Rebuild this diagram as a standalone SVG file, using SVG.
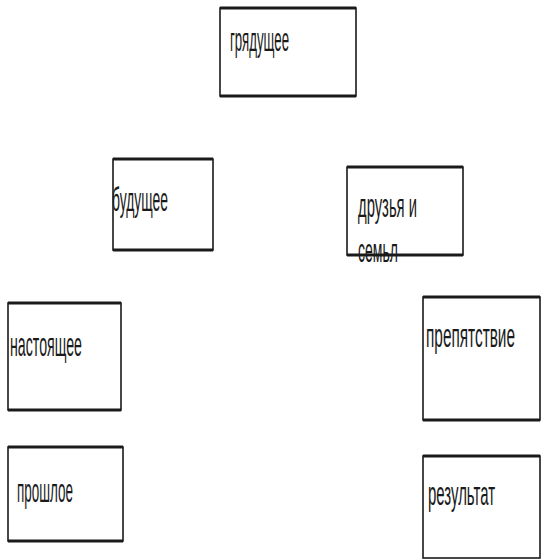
<svg xmlns="http://www.w3.org/2000/svg" width="542" height="560" viewBox="0 0 542 560">
  <style>
    .box { fill: #ffffff; stroke: #1a1a1a; stroke-width: 1.6; }
    .edge { stroke: #1a1a1a; stroke-width: 3; fill: none; }
    .lbl { font-family: "Liberation Sans", Arial, sans-serif; font-size: 16.5px; fill: #1a1a1a; }
  </style>
  <rect x="0" y="0" width="542" height="560" fill="#ffffff"/>
  <g id="connectors"></g>
  <g id="node-gryadushchee">
    <rect class="box" x="220" y="8" width="136" height="88"/>
    <line class="edge" x1="220" y1="8" x2="356" y2="8"/>
    <line class="edge" x1="220" y1="96" x2="356" y2="96"/>
    <text class="lbl" transform="translate(230,51) scale(1,2)" x="0" y="0" textLength="59" lengthAdjust="spacingAndGlyphs">грядущее</text>
  </g>
  <g id="node-budushchee">
    <rect class="box" x="113" y="159" width="100" height="91"/>
    <line class="edge" x1="113" y1="159" x2="213" y2="159"/>
    <line class="edge" x1="113" y1="250" x2="213" y2="250"/>
    <text class="lbl" transform="translate(112,211) scale(1,2)" x="0" y="0" textLength="56" lengthAdjust="spacingAndGlyphs">будущее</text>
  </g>
  <g id="node-druzya">
    <rect class="box" x="347" y="167" width="116" height="88"/>
    <line class="edge" x1="347" y1="167" x2="463" y2="167"/>
    <text class="lbl" transform="translate(358,217) scale(1,2)" x="0" y="0" textLength="59" lengthAdjust="spacingAndGlyphs">друзья и</text>
    <text class="lbl" transform="translate(358,262) scale(1,2)" x="0" y="0" textLength="40" lengthAdjust="spacingAndGlyphs">семьл</text>
    <line class="edge" x1="347" y1="255" x2="463" y2="255"/>
  </g>
  <g id="node-nastoyashchee">
    <rect class="box" x="8" y="303" width="113" height="107"/>
    <line class="edge" x1="8" y1="303" x2="121" y2="303"/>
    <line class="edge" x1="8" y1="410" x2="121" y2="410"/>
    <text class="lbl" transform="translate(10,356) scale(1,2)" x="0" y="0" textLength="72" lengthAdjust="spacingAndGlyphs">настоящее</text>
  </g>
  <g id="node-prepyatstvie">
    <rect class="box" x="423" y="297" width="117" height="123"/>
    <line class="edge" x1="423" y1="297" x2="540" y2="297"/>
    <line class="edge" x1="423" y1="420" x2="540" y2="420"/>
    <text class="lbl" transform="translate(426,347) scale(1,2)" x="0" y="0" textLength="89" lengthAdjust="spacingAndGlyphs">препятствие</text>
  </g>
  <g id="node-proshloe">
    <rect class="box" x="8" y="447" width="115" height="94"/>
    <line class="edge" x1="8" y1="447" x2="123" y2="447"/>
    <line class="edge" x1="8" y1="541" x2="123" y2="541"/>
    <text class="lbl" transform="translate(17,502) scale(1,2)" x="0" y="0" textLength="56" lengthAdjust="spacingAndGlyphs">прошлое</text>
  </g>
  <g id="node-rezultat">
    <rect class="box" x="423" y="456" width="117" height="102"/>
    <line class="edge" x1="423" y1="456" x2="540" y2="456"/>
    <text class="lbl" transform="translate(428,505) scale(1,2)" x="0" y="0" textLength="67" lengthAdjust="spacingAndGlyphs">результат</text>
  </g>
</svg>
